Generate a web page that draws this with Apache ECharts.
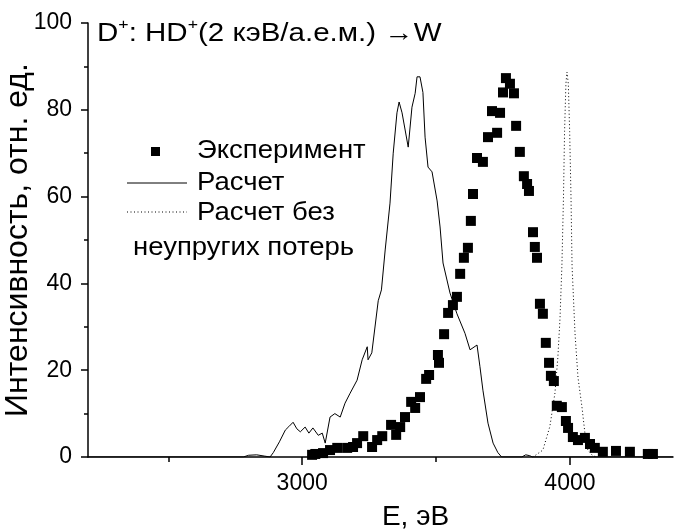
<!DOCTYPE html>
<html>
<head>
<meta charset="utf-8">
<script src="https://cdn.jsdelivr.net/npm/echarts@6/dist/echarts.min.js"></script>
<style>
html,body{margin:0;padding:0;background:#fff;}
#chart{width:674px;height:531px;}
</style>
</head>
<body>
<div id="chart"></div>
<script>
// Experiment (squares): [E, intensity]
const experimentData = [
  [3037,0.5],[3049,0.7],[3078,0.9],[3104,1.6],[3131,2.1],[3168,2.1],[3190,2.3],[3205,3.2],
  [3228,4.8],[3261,2.3],[3280,3.9],[3299,4.8],[3332,7.4],[3351,5.1],[3366,6.9],[3384,9.2],
  [3407,12.7],[3422,11.3],[3440,13.8],[3463,18],[3474,18.9],[3507,23.5],[3511,21.7],[3530,28.3],
  [3545,33.2],[3563,35],[3578,36.9],[3590,42.2],[3604,45.9],[3619,48.2],[3630,54.4],[3638,60.6],
  [3653,68.9],[3675,68],[3694,73.7],[3709,79.7],[3728,74.7],[3739,79.3],[3750,84],[3761,87.3],
  [3776,86],[3791,83.8],[3799,76.3],[3813,70.3],[3828,64.7],[3840,62.9],[3847,61.3],[3862,51.8],
  [3869,48.4],[3877,45.9],[3888,35.3],[3899,33],[3910,26.3],[3922,21.7],[3929,18.7],[3940,17.5],
  [3951,11.8],[3970,11.5],[3985,8.3],[3993,6.7],[4011,4.6],[4030,3.9],[4056,4.4],[4075,3],
  [4093,2.1],[4123,1.2],[4172,1.4],[4224,1.2],[4291,0.7],[4310,0.7]
];
// Calculation (solid line)
const calcData = [
  [2200,0],[2780,0],[2800,0.4],[2830,0.5],[2860,0.2],[2880,0],[2892,1],[2915,3.5],[2937,6.2],
  [2950,7],[2966,8],[2980,6.5],[2993,5.8],[3011,6.9],[3025,5.5],[3040,6.7],[3060,5],[3075,5.5],
  [3086,3.2],[3104,9.2],[3122,10],[3142,9.2],[3160,12.4],[3179,14.7],[3205,17.7],[3224,22.4],
  [3243,25.4],[3246,22.4],[3260,24],[3284,36],[3296,38.5],[3310,47.7],[3328,58.5],[3340,70],
  [3354,79.3],[3362,81.8],[3373,79.3],[3380,79.5],[3396,71.4],[3410,80.6],[3422,83.8],[3429,87.6],
  [3440,87.6],[3451,84],[3459,73.7],[3470,66.8],[3485,65.7],[3504,59],[3515,53],[3526,44.7],
  [3552,37.8],[3578,33],[3608,28.5],[3627,24.7],[3653,25.8],[3664,20.8],[3675,15.4],[3694,7.8],
  [3713,3.2],[3731,1],[3745,0],[3820,0],[3835,0.5],[3850,0.3],[3860,0],[4385,0]
];
// Calculation without inelastic losses (dotted line)
const elasticData = [
  [3860,0],[3869,0.3],[3899,1.6],[3925,7],[3944,14.7],[3955,23],[3963,32],[3970,44],[3976,60],
  [3980,75],[3985,86],[3989,88.7],[3994,86],[3999,75],[4004,60],[4008,44],[4019,28.5],[4030,18.4],
  [4045,11.5],[4056,5.5],[4067,1.6],[4085,0.3],[4100,0]
];
const xLabelValues = [3000, 4000];
const xMinorValues = [2500, 3500];
const titleText = ['D', '+', ': HD', '+', '(2 кэВ/а.е.м.) →W'];
const legendNames = ['Эксперимент', 'Расчет', 'Расчет без', 'неупругих потерь'];

const FONT = 'Liberation Sans, Arial, sans-serif';
const LEG_FONT = '25px ' + FONT;
const LEG_SX = 1.1;
const chart = echarts.init(document.getElementById('chart'), null, {renderer: 'canvas'});
chart.setOption({
  animation: false,
  backgroundColor: '#fff',
  grid: {left: 88, right: 1, top: 23, bottom: 74, containLabel: false, outerBoundsMode: 'none'},
  xAxis: [{
    type: 'value', min: 2200, max: 4385,
    name: 'E, эВ', nameLocation: 'middle', nameGap: 46,
    nameTextStyle: {fontFamily: FONT, fontSize: 28, color: '#000', padding: [0,0,0,70]},
    axisLine: {show: true, onZero: false, lineStyle: {color: '#000', width: 1.5}},
    axisTick: {show: true, inside: false, length: 8, customValues: xLabelValues, lineStyle: {color: '#000', width: 1.5}},
    axisLabel: {customValues: xLabelValues, formatter: v => String(v), fontFamily: FONT, fontSize: 23, color: '#000', margin: 15},
    splitLine: {show: false}
  }, {
    type: 'value', min: 2200, max: 4385, position: 'bottom', gridIndex: 0,
    axisLine: {show: false},
    axisTick: {show: true, inside: false, length: 5, customValues: xMinorValues, lineStyle: {color: '#000', width: 1.5}},
    axisLabel: {show: false},
    splitLine: {show: false}
  }],
  yAxis: {
    type: 'value', min: 0, max: 100, interval: 20,
    name: 'Интенсивность, отн. ед.', nameLocation: 'middle', nameGap: 54, nameMoveOverlap: false,
    nameTextStyle: {fontFamily: FONT, fontSize: 32, color: '#000'},
    axisLine: {show: true, lineStyle: {color: '#000', width: 1.5}},
    axisTick: {show: true, inside: false, length: 7, lineStyle: {color: '#000', width: 1.5}},
    minorTick: {show: true, splitNumber: 2, length: 4, lineStyle: {color: '#000', width: 1.5}},
    axisLabel: {fontFamily: FONT, fontSize: 23, color: '#000', margin: 16},
    splitLine: {show: false}
  },
  series: [{
    name: legendNames[1], type: 'line', data: calcData, showSymbol: false, symbol: 'none',
    lineStyle: {color: '#000', width: 1}, z: 2
  }, {
    name: legendNames[2], type: 'line', data: elasticData, showSymbol: false, symbol: 'none',
    lineStyle: {color: '#000', width: 1, type: [1, 2.5]}, z: 2
  }, {
    name: legendNames[0], type: 'scatter', data: experimentData, symbol: 'rect', symbolSize: 10,
    itemStyle: {color: '#000', opacity: 1}, z: 3
  }],
  graphic: [
    {type: 'text', x: 97, y: 32, scaleX: 1.18,
      style: {
        text: '{n|' + titleText[0] + '}{s|' + titleText[1] + '}{n|' + titleText[2] + '}{s|' + titleText[3] + '}{n|' + titleText[4] + '}',
        textVerticalAlign: 'middle',
        rich: {
          n: {fontFamily: FONT, fontSize: 25, fill: '#000', verticalAlign: 'bottom', lineHeight: 30},
          s: {fontFamily: FONT, fontSize: 15, fill: '#000', verticalAlign: 'top', lineHeight: 30, padding: [0,0,12,0]}
        }
      }},
    {type: 'rect', shape: {x: 151, y: 147, width: 9, height: 9}, style: {fill: '#000'}},
    {type: 'text', x: 197, y: 151, scaleX: LEG_SX, style: {text: legendNames[0], font: LEG_FONT, fill: '#000', textVerticalAlign: 'middle'}},
    {type: 'line', shape: {x1: 127, y1: 183, x2: 187, y2: 183}, style: {stroke: '#000', lineWidth: 1}},
    {type: 'text', x: 197, y: 183, scaleX: LEG_SX, style: {text: legendNames[1], font: LEG_FONT, fill: '#000', textVerticalAlign: 'middle'}},
    {type: 'line', shape: {x1: 127, y1: 212, x2: 187, y2: 212}, style: {stroke: '#000', lineWidth: 1, lineDash: [1, 2.5]}},
    {type: 'text', x: 197, y: 213, scaleX: LEG_SX, style: {text: legendNames[2], font: LEG_FONT, fill: '#000', textVerticalAlign: 'middle'}},
    {type: 'text', x: 133, y: 248, scaleX: LEG_SX, style: {text: legendNames[3], font: LEG_FONT, fill: '#000', textVerticalAlign: 'middle'}}
  ]
});
</script>
</body>
</html>
